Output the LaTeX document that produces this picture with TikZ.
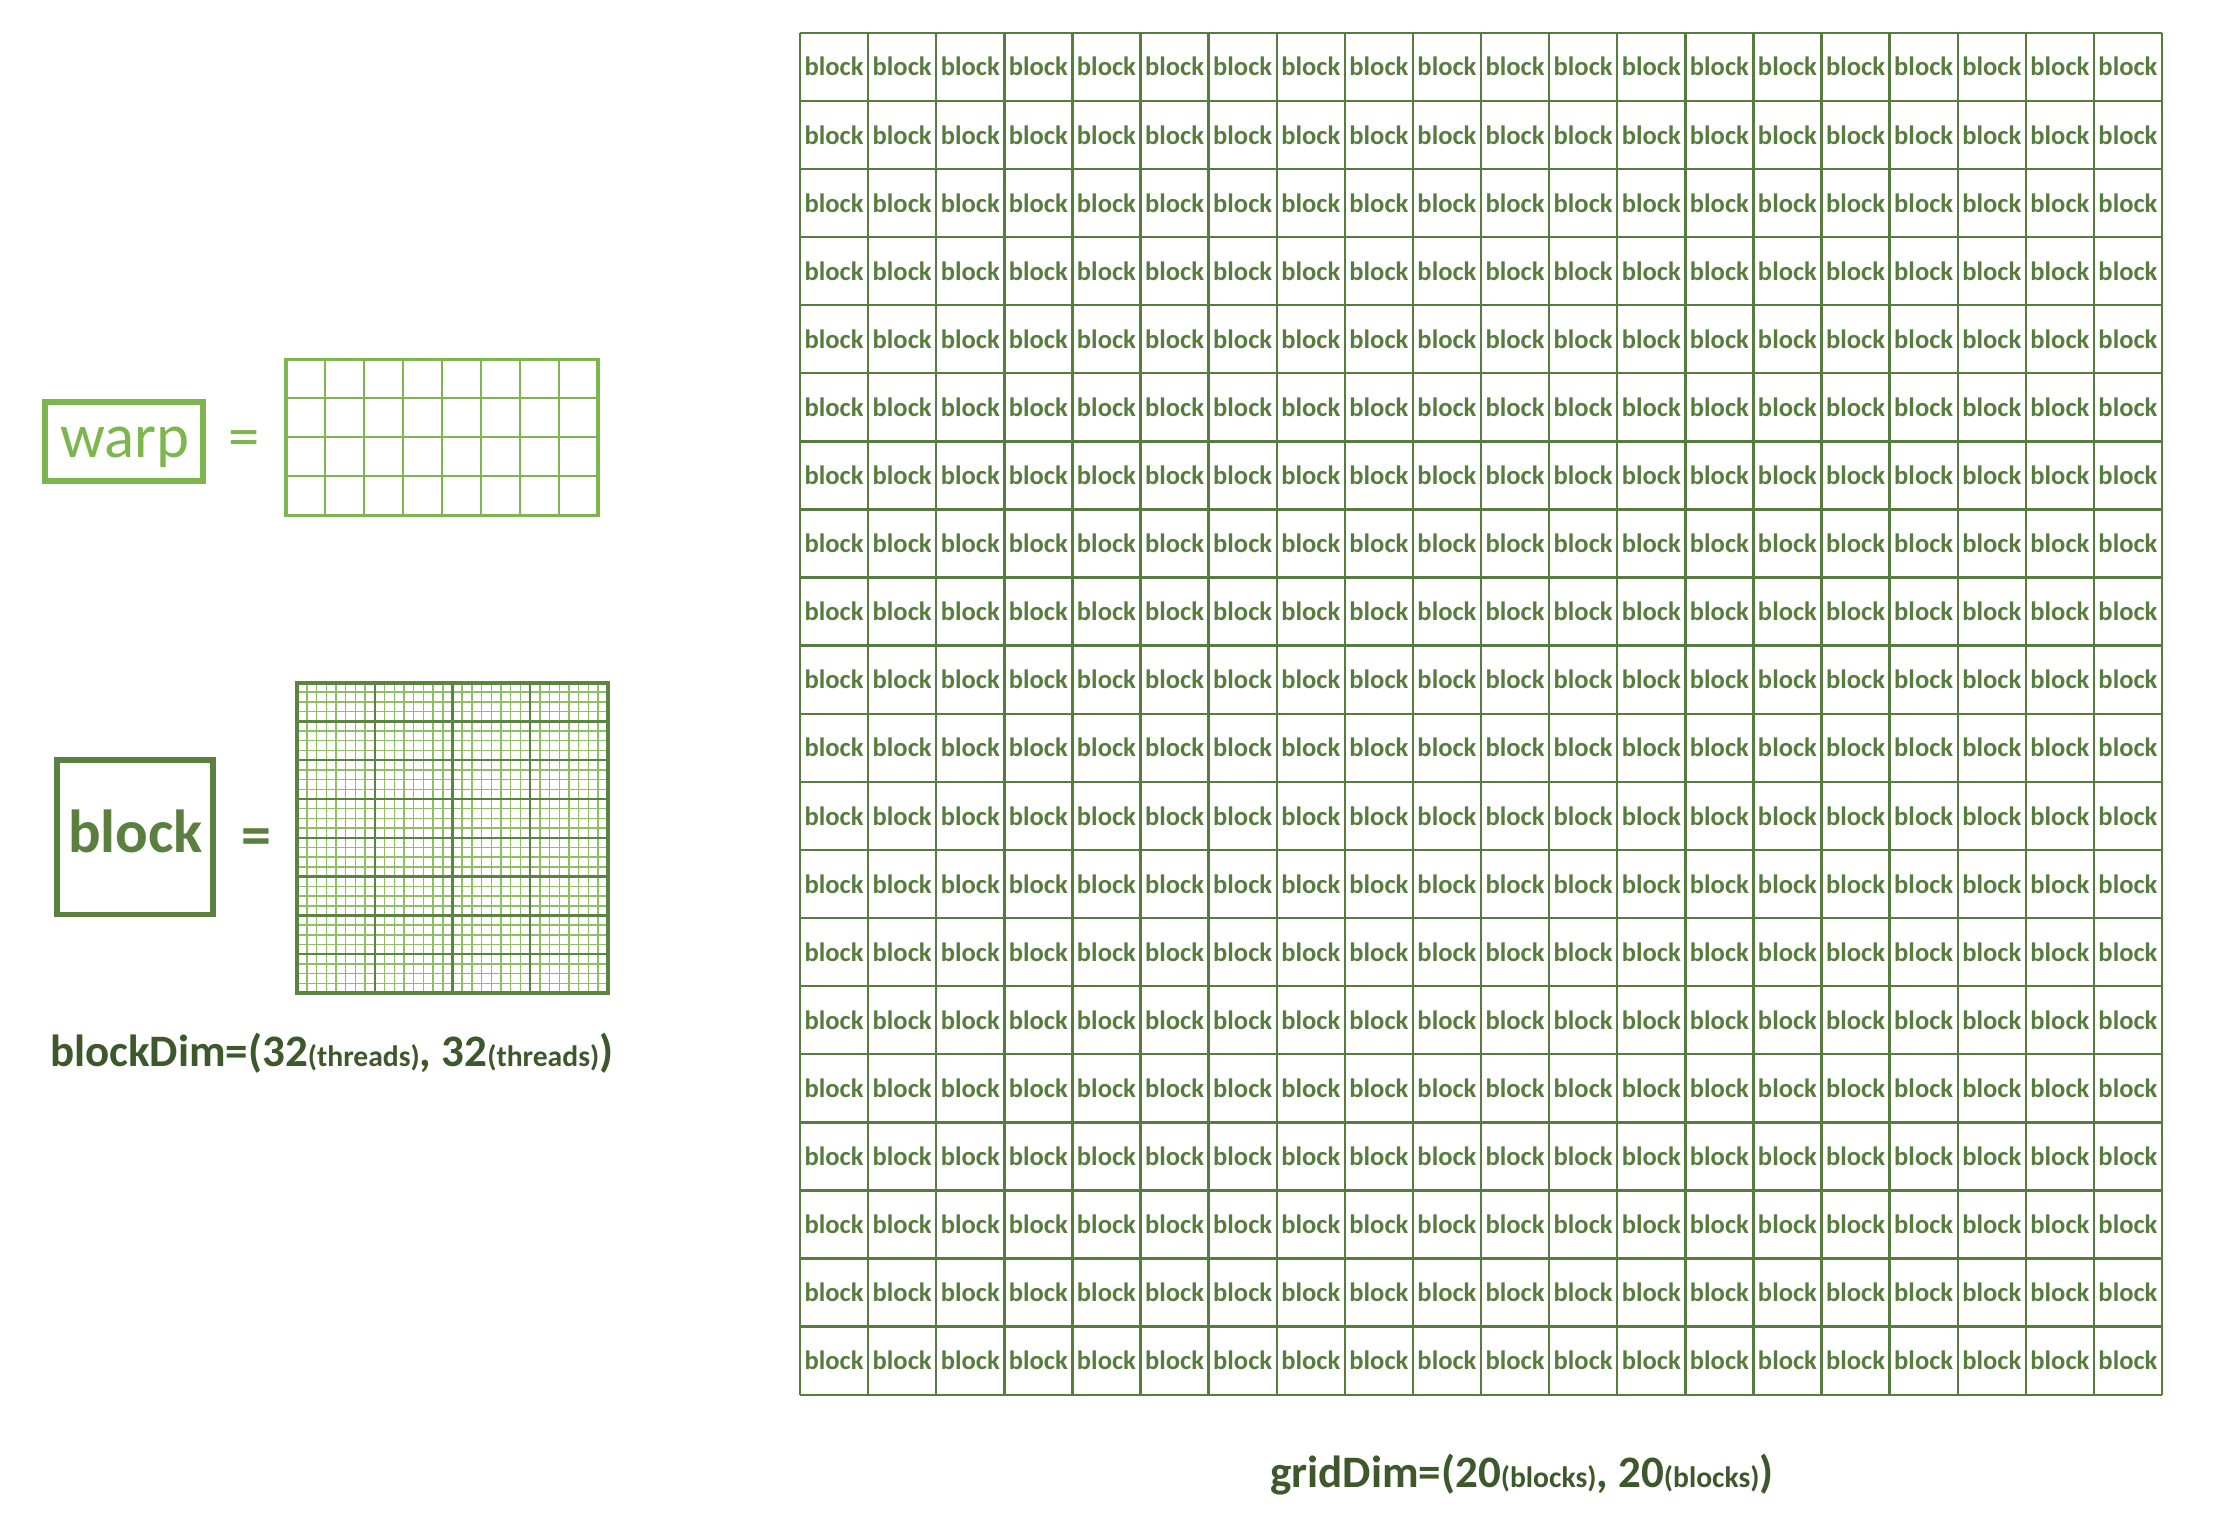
\documentclass[tikz,border=0pt]{standalone}
\usepackage{fontspec}
\setmainfont{Carlito}
\definecolor{cellg}{HTML}{577D3E}
\definecolor{dimg}{HTML}{3D592B}
\definecolor{warpg}{HTML}{7EB64E}
\definecolor{blockg}{HTML}{5A7F3F}
\definecolor{minorg}{HTML}{8CC063}
\definecolor{majorg}{HTML}{5A8540}
\newcommand{\bigfs}{\fontsize{45}{50}\selectfont}
\newcommand{\smallfs}{\fontsize{29.6}{32}\selectfont}
\begin{document}
\begin{tikzpicture}[x=1pt,y=-1pt,
  celltext/.style={inner sep=0pt,text=cellg,font=\bfseries\fontsize{26.6}{30}\selectfont},
  dimtext/.style={inner sep=0pt,text=dimg,font=\bfseries\bigfs},
  warpbox/.style={draw=warpg,line width=6.5pt,minimum width=158pt,minimum height=79pt,inner sep=0pt},
  blockbox/.style={draw=blockg,line width=5.5pt,minimum width=156pt,minimum height=154.5pt,inner sep=0pt},
  gridline/.style={draw=cellg,line width=2.4pt}]
\useasboundingbox (0,0) rectangle (2224,1534);

% warp
\node[warpbox] (warp) at (124,441.5) {};
\node[anchor=base,inner sep=0pt,text=warpg,font=\fontsize{62.8}{70}\selectfont] (warptext) at (125,457) {warp};
\node[inner sep=0pt,text=warpg,font=\fontsize{62.8}{70}\selectfont] (weq) at (244.5,444.5) {=};
\draw[warpg,line width=2pt] \foreach \k in {1,...,7} {({286+39*\k},359.3) -- ({286+39*\k},515.3)}
  \foreach \k in {1,...,3} {(286,{359.3+39*\k}) -- (598,{359.3+39*\k})};
\draw[warpg,line width=3.5pt] (286,359.3) rectangle (598,515.3);

% block
\node[blockbox] (blk) at (135,837.25) {};
\node[anchor=base,inner sep=0pt,text=blockg,font=\bfseries\fontsize{60.8}{70}\selectfont] (blktext) at (135.7,852.7) {block};
\node[inner sep=0pt,text=blockg,font=\bfseries\fontsize{60}{70}\selectfont] (beq) at (256.4,842.5) {=};
\pgfmathsetmacro{\tw}{310.6/32}
\draw[minorg,line width=1.5pt] \foreach \k in {1,...,31} {({297.2+\tw*\k},682.5) -- ({297.2+\tw*\k},992.7)}
  \foreach \k in {1,...,31} {(297.2,{682.5+\tw*\k}) -- (607.8,{682.5+\tw*\k})};
\draw[majorg,line width=2.4pt] \foreach \k in {1,...,3} {({297.2+\tw*8*\k},682.5) -- ({297.2+\tw*8*\k},992.7)}
  \foreach \k in {1,...,7} {(297.2,{682.5+\tw*4*\k}) -- (607.8,{682.5+\tw*4*\k})};
\draw[majorg,line width=4pt] (297.2,682.5) rectangle (607.8,992.7);

\node[dimtext,anchor=base west] (blockdim) at (49.8,1066.7)
  {blockDim=(32{\smallfs(threads)}, 32{\smallfs(threads)})};

% grid of blocks
\draw[gridline] \foreach \k in {0,...,20} {({800+68.1*\k},32.7) -- ({800+68.1*\k},1394.7)}
  \foreach \k in {0,...,20} {(800,{32.7+68.1*\k}) -- (2162,{32.7+68.1*\k})};
\foreach \i in {0,...,19}
  \foreach \j in {0,...,19}
    \node[celltext] (cell-\i-\j) at ({800+68.1*(\i+0.5)},{32.7+68.1*(\j+0.5)}) {block};

\node[dimtext,anchor=base west] (griddim) at (1270,1487.3)
  {gridDim=(20{\smallfs(blocks)}, 20{\smallfs(blocks)})};
\end{tikzpicture}
\end{document}
